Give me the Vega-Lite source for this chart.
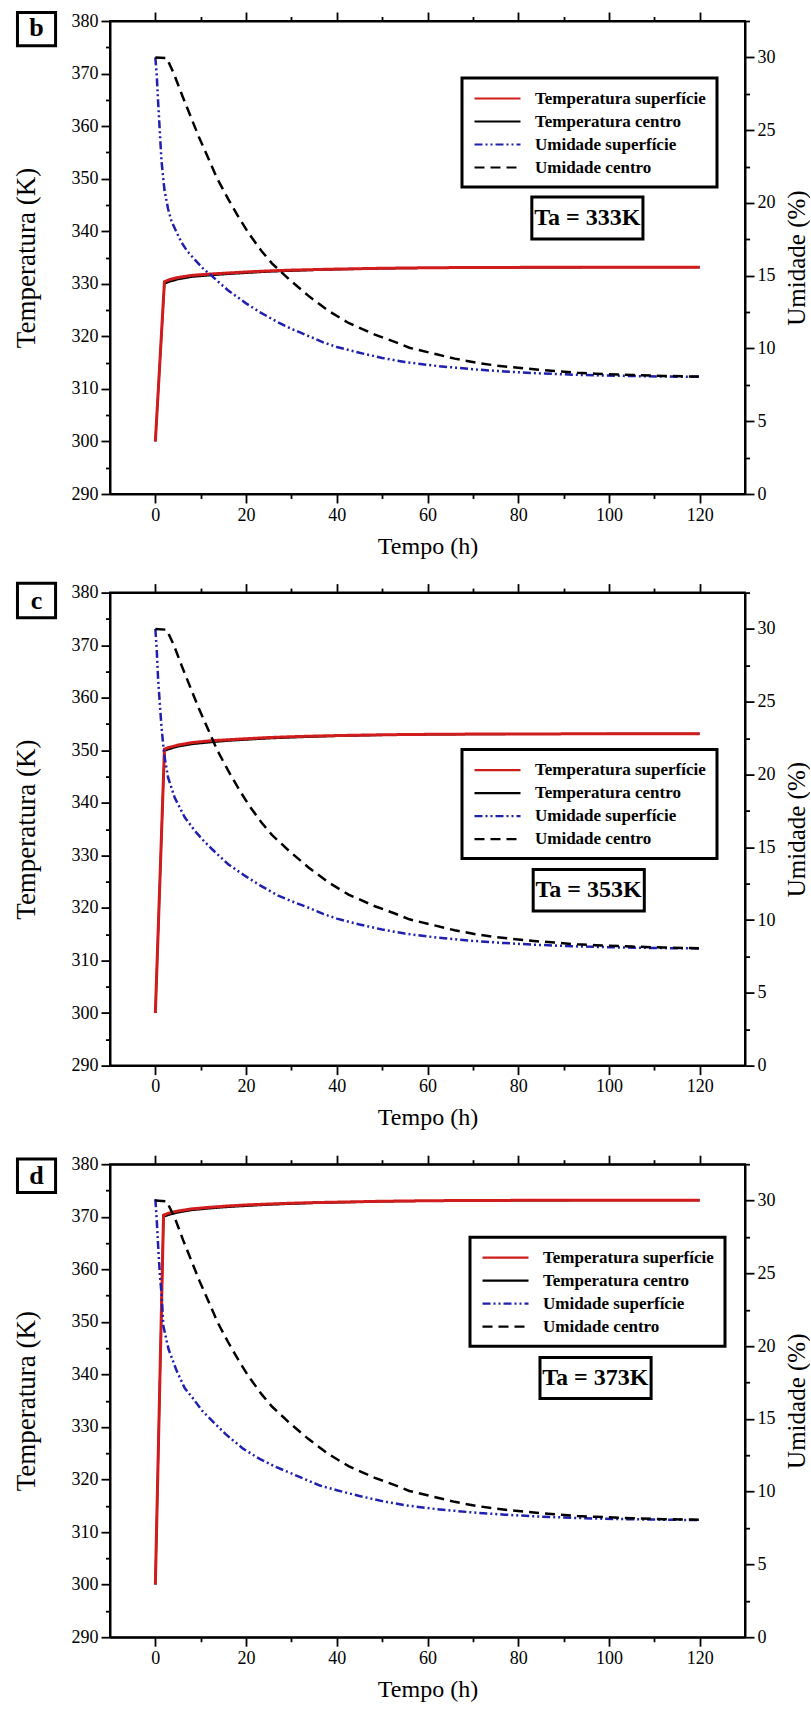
{
  "$schema": "https://vega.github.io/schema/vega-lite/v6.json",
  "background": "white",
  "padding": {"left": 11, "top": 10, "right": 0, "bottom": 2},
  "config": {
    "view": {"stroke": "black", "strokeWidth": 2},
    "axis": {"grid": false, "domainColor": "black", "domainWidth": 2, "tickColor": "black", "tickWidth": 1.8, "tickSize": 9,
      "labelFont": "Liberation Serif, Times New Roman, serif", "labelFontSize": 18, "labelColor": "black", "labelPadding": 3, "labelFlush": false, "labelOverlap": false,
      "titleFont": "Liberation Serif, Times New Roman, serif", "titleFontSize": 24, "titleFontWeight": "normal", "titleColor": "black"},
    "legend": {"strokeColor": "black", "strokeWidth": 3, "fillColor": "white", "padding": 11, "cornerRadius": 0,
      "symbolType": "M-1,0H4.75", "symbolSize": 256, "symbolStrokeWidth": 2.2, "labelFont": "Liberation Serif, Times New Roman, serif", "labelFontWeight": "bold",
      "labelFontSize": 17, "labelColor": "black", "labelOffset": 43, "rowPadding": 5, "labelLimit": 400}
  },
  "datasets": {
    "dados_b": [
      {"serie": "Temperatura superfície", "t": 0, "valor": 300}, {"serie": "Temperatura superfície", "t": 2, "valor": 330.4}, {"serie": "Temperatura superfície", "t": 3, "valor": 330.75}, {"serie": "Temperatura superfície", "t": 5, "valor": 331.2}, {"serie": "Temperatura superfície", "t": 8, "valor": 331.6}, {"serie": "Temperatura superfície", "t": 12, "valor": 331.85}, {"serie": "Temperatura superfície", "t": 16, "valor": 332.05}, {"serie": "Temperatura superfície", "t": 20, "valor": 332.25}, {"serie": "Temperatura superfície", "t": 25, "valor": 332.45}, {"serie": "Temperatura superfície", "t": 30, "valor": 332.6}, {"serie": "Temperatura superfície", "t": 35, "valor": 332.7}, {"serie": "Temperatura superfície", "t": 40, "valor": 332.8}, {"serie": "Temperatura superfície", "t": 50, "valor": 332.95}, {"serie": "Temperatura superfície", "t": 60, "valor": 333.05}, {"serie": "Temperatura superfície", "t": 70, "valor": 333.1}, {"serie": "Temperatura superfície", "t": 80, "valor": 333.12}, {"serie": "Temperatura superfície", "t": 90, "valor": 333.14}, {"serie": "Temperatura superfície", "t": 100, "valor": 333.15}, {"serie": "Temperatura superfície", "t": 110, "valor": 333.15}, {"serie": "Temperatura superfície", "t": 120, "valor": 333.15},
      {"serie": "Temperatura centro", "t": 0, "valor": 300}, {"serie": "Temperatura centro", "t": 2, "valor": 330}, {"serie": "Temperatura centro", "t": 3, "valor": 330.35}, {"serie": "Temperatura centro", "t": 5, "valor": 330.85}, {"serie": "Temperatura centro", "t": 8, "valor": 331.3}, {"serie": "Temperatura centro", "t": 12, "valor": 331.6}, {"serie": "Temperatura centro", "t": 16, "valor": 331.85}, {"serie": "Temperatura centro", "t": 20, "valor": 332.05}, {"serie": "Temperatura centro", "t": 25, "valor": 332.3}, {"serie": "Temperatura centro", "t": 30, "valor": 332.45}, {"serie": "Temperatura centro", "t": 35, "valor": 332.6}, {"serie": "Temperatura centro", "t": 40, "valor": 332.72}, {"serie": "Temperatura centro", "t": 50, "valor": 332.9}, {"serie": "Temperatura centro", "t": 60, "valor": 333}, {"serie": "Temperatura centro", "t": 70, "valor": 333.06}, {"serie": "Temperatura centro", "t": 80, "valor": 333.1}, {"serie": "Temperatura centro", "t": 100, "valor": 333.13}, {"serie": "Temperatura centro", "t": 120, "valor": 333.15},
      {"serie": "Umidade superfície", "t": 0, "valor": 30}, {"serie": "Umidade superfície", "t": 0.3, "valor": 28.8}, {"serie": "Umidade superfície", "t": 0.6, "valor": 27.0}, {"serie": "Umidade superfície", "t": 1.0, "valor": 24.8}, {"serie": "Umidade superfície", "t": 1.35, "valor": 22.9}, {"serie": "Umidade superfície", "t": 2.0, "valor": 20.9}, {"serie": "Umidade superfície", "t": 2.8, "valor": 19.6}, {"serie": "Umidade superfície", "t": 3.5, "valor": 18.8}, {"serie": "Umidade superfície", "t": 4.5, "valor": 18.1}, {"serie": "Umidade superfície", "t": 5.75, "valor": 17.3}, {"serie": "Umidade superfície", "t": 7, "valor": 16.7}, {"serie": "Umidade superfície", "t": 8.7, "valor": 16.1}, {"serie": "Umidade superfície", "t": 10.5, "valor": 15.5}, {"serie": "Umidade superfície", "t": 12.4, "valor": 15.0}, {"serie": "Umidade superfície", "t": 14, "valor": 14.55}, {"serie": "Umidade superfície", "t": 16, "valor": 14.0}, {"serie": "Umidade superfície", "t": 18, "valor": 13.55}, {"serie": "Umidade superfície", "t": 20, "valor": 13.1}, {"serie": "Umidade superfície", "t": 23, "valor": 12.5}, {"serie": "Umidade superfície", "t": 27, "valor": 11.8}, {"serie": "Umidade superfície", "t": 30, "valor": 11.35}, {"serie": "Umidade superfície", "t": 34.4, "valor": 10.77}, {"serie": "Umidade superfície", "t": 37, "valor": 10.42}, {"serie": "Umidade superfície", "t": 40, "valor": 10.1}, {"serie": "Umidade superfície", "t": 45, "valor": 9.7}, {"serie": "Umidade superfície", "t": 50, "valor": 9.35}, {"serie": "Umidade superfície", "t": 55, "valor": 9.07}, {"serie": "Umidade superfície", "t": 62, "valor": 8.8}, {"serie": "Umidade superfície", "t": 70, "valor": 8.57}, {"serie": "Umidade superfície", "t": 77, "valor": 8.42}, {"serie": "Umidade superfície", "t": 84, "valor": 8.3}, {"serie": "Umidade superfície", "t": 92, "valor": 8.2}, {"serie": "Umidade superfície", "t": 99, "valor": 8.14}, {"serie": "Umidade superfície", "t": 106, "valor": 8.1}, {"serie": "Umidade superfície", "t": 113, "valor": 8.07}, {"serie": "Umidade superfície", "t": 120, "valor": 8.05},
      {"serie": "Umidade centro", "t": 0, "valor": 30}, {"serie": "Umidade centro", "t": 2.5, "valor": 29.95}, {"serie": "Umidade centro", "t": 4.06, "valor": 28.9}, {"serie": "Umidade centro", "t": 5.9, "valor": 27.4}, {"serie": "Umidade centro", "t": 7.74, "valor": 25.97}, {"serie": "Umidade centro", "t": 9.57, "valor": 24.55}, {"serie": "Umidade centro", "t": 11.77, "valor": 23.0}, {"serie": "Umidade centro", "t": 13.6, "valor": 21.7}, {"serie": "Umidade centro", "t": 16, "valor": 20.3}, {"serie": "Umidade centro", "t": 18.4, "valor": 19.0}, {"serie": "Umidade centro", "t": 20.6, "valor": 17.9}, {"serie": "Umidade centro", "t": 23.4, "valor": 16.7}, {"serie": "Umidade centro", "t": 25.7, "valor": 15.85}, {"serie": "Umidade centro", "t": 29.6, "valor": 14.72}, {"serie": "Umidade centro", "t": 33.7, "valor": 13.63}, {"serie": "Umidade centro", "t": 38.1, "valor": 12.6}, {"serie": "Umidade centro", "t": 42.6, "valor": 11.75}, {"serie": "Umidade centro", "t": 48.4, "valor": 10.95}, {"serie": "Umidade centro", "t": 52.8, "valor": 10.45}, {"serie": "Umidade centro", "t": 56, "valor": 10.05}, {"serie": "Umidade centro", "t": 62, "valor": 9.6}, {"serie": "Umidade centro", "t": 66, "valor": 9.3}, {"serie": "Umidade centro", "t": 70.6, "valor": 9.03}, {"serie": "Umidade centro", "t": 75, "valor": 8.83}, {"serie": "Umidade centro", "t": 80, "valor": 8.67}, {"serie": "Umidade centro", "t": 84, "valor": 8.55}, {"serie": "Umidade centro", "t": 88, "valor": 8.45}, {"serie": "Umidade centro", "t": 93, "valor": 8.33}, {"serie": "Umidade centro", "t": 97, "valor": 8.27}, {"serie": "Umidade centro", "t": 105, "valor": 8.18}, {"serie": "Umidade centro", "t": 112, "valor": 8.11}, {"serie": "Umidade centro", "t": 120, "valor": 8.07}
    ],
    "dados_c": [
      {"serie": "Temperatura superfície", "t": 0, "valor": 300}, {"serie": "Temperatura superfície", "t": 2, "valor": 350.2}, {"serie": "Temperatura superfície", "t": 3, "valor": 350.55}, {"serie": "Temperatura superfície", "t": 5, "valor": 351.0}, {"serie": "Temperatura superfície", "t": 8, "valor": 351.45}, {"serie": "Temperatura superfície", "t": 12, "valor": 351.8}, {"serie": "Temperatura superfície", "t": 16, "valor": 352.0}, {"serie": "Temperatura superfície", "t": 20, "valor": 352.2}, {"serie": "Temperatura superfície", "t": 25, "valor": 352.42}, {"serie": "Temperatura superfície", "t": 30, "valor": 352.58}, {"serie": "Temperatura superfície", "t": 35, "valor": 352.7}, {"serie": "Temperatura superfície", "t": 40, "valor": 352.8}, {"serie": "Temperatura superfície", "t": 50, "valor": 352.95}, {"serie": "Temperatura superfície", "t": 60, "valor": 353.03}, {"serie": "Temperatura superfície", "t": 70, "valor": 353.08}, {"serie": "Temperatura superfície", "t": 80, "valor": 353.1}, {"serie": "Temperatura superfície", "t": 90, "valor": 353.12}, {"serie": "Temperatura superfície", "t": 100, "valor": 353.13}, {"serie": "Temperatura superfície", "t": 110, "valor": 353.14}, {"serie": "Temperatura superfície", "t": 120, "valor": 353.15},
      {"serie": "Temperatura centro", "t": 0, "valor": 300}, {"serie": "Temperatura centro", "t": 2, "valor": 349.9}, {"serie": "Temperatura centro", "t": 3, "valor": 350.2}, {"serie": "Temperatura centro", "t": 5, "valor": 350.7}, {"serie": "Temperatura centro", "t": 8, "valor": 351.15}, {"serie": "Temperatura centro", "t": 12, "valor": 351.5}, {"serie": "Temperatura centro", "t": 16, "valor": 351.8}, {"serie": "Temperatura centro", "t": 20, "valor": 352.0}, {"serie": "Temperatura centro", "t": 25, "valor": 352.25}, {"serie": "Temperatura centro", "t": 30, "valor": 352.42}, {"serie": "Temperatura centro", "t": 35, "valor": 352.57}, {"serie": "Temperatura centro", "t": 40, "valor": 352.7}, {"serie": "Temperatura centro", "t": 50, "valor": 352.88}, {"serie": "Temperatura centro", "t": 60, "valor": 352.98}, {"serie": "Temperatura centro", "t": 70, "valor": 353.05}, {"serie": "Temperatura centro", "t": 80, "valor": 353.08}, {"serie": "Temperatura centro", "t": 100, "valor": 353.12}, {"serie": "Temperatura centro", "t": 120, "valor": 353.14},
      {"serie": "Umidade superfície", "t": 0, "valor": 30}, {"serie": "Umidade superfície", "t": 0.3, "valor": 28.6}, {"serie": "Umidade superfície", "t": 0.6, "valor": 26.6}, {"serie": "Umidade superfície", "t": 1.0, "valor": 24.8}, {"serie": "Umidade superfície", "t": 1.35, "valor": 23.3}, {"serie": "Umidade superfície", "t": 1.93, "valor": 21.4}, {"serie": "Umidade superfície", "t": 2.8, "valor": 19.8}, {"serie": "Umidade superfície", "t": 4.28, "valor": 18.4}, {"serie": "Umidade superfície", "t": 6.48, "valor": 17.06}, {"serie": "Umidade superfície", "t": 8.69, "valor": 16.14}, {"serie": "Umidade superfície", "t": 10.5, "valor": 15.5}, {"serie": "Umidade superfície", "t": 12.4, "valor": 14.9}, {"serie": "Umidade superfície", "t": 16, "valor": 13.85}, {"serie": "Umidade superfície", "t": 19.7, "valor": 13.05}, {"serie": "Umidade superfície", "t": 23, "valor": 12.4}, {"serie": "Umidade superfície", "t": 27.1, "valor": 11.68}, {"serie": "Umidade superfície", "t": 30, "valor": 11.3}, {"serie": "Umidade superfície", "t": 34.4, "valor": 10.77}, {"serie": "Umidade superfície", "t": 37, "valor": 10.42}, {"serie": "Umidade superfície", "t": 40, "valor": 10.1}, {"serie": "Umidade superfície", "t": 45, "valor": 9.7}, {"serie": "Umidade superfície", "t": 50, "valor": 9.35}, {"serie": "Umidade superfície", "t": 55, "valor": 9.07}, {"serie": "Umidade superfície", "t": 62, "valor": 8.8}, {"serie": "Umidade superfície", "t": 70, "valor": 8.57}, {"serie": "Umidade superfície", "t": 77, "valor": 8.42}, {"serie": "Umidade superfície", "t": 84, "valor": 8.3}, {"serie": "Umidade superfície", "t": 92, "valor": 8.2}, {"serie": "Umidade superfície", "t": 99, "valor": 8.14}, {"serie": "Umidade superfície", "t": 106, "valor": 8.1}, {"serie": "Umidade superfície", "t": 113, "valor": 8.07}, {"serie": "Umidade superfície", "t": 120, "valor": 8.05},
      {"serie": "Umidade centro", "t": 0, "valor": 30}, {"serie": "Umidade centro", "t": 2.5, "valor": 29.95}, {"serie": "Umidade centro", "t": 4.06, "valor": 28.9}, {"serie": "Umidade centro", "t": 5.9, "valor": 27.4}, {"serie": "Umidade centro", "t": 7.74, "valor": 25.97}, {"serie": "Umidade centro", "t": 9.57, "valor": 24.55}, {"serie": "Umidade centro", "t": 11.77, "valor": 23.0}, {"serie": "Umidade centro", "t": 13.6, "valor": 21.7}, {"serie": "Umidade centro", "t": 16, "valor": 20.3}, {"serie": "Umidade centro", "t": 18.4, "valor": 19.0}, {"serie": "Umidade centro", "t": 20.6, "valor": 17.9}, {"serie": "Umidade centro", "t": 23.4, "valor": 16.7}, {"serie": "Umidade centro", "t": 25.7, "valor": 15.85}, {"serie": "Umidade centro", "t": 29.6, "valor": 14.72}, {"serie": "Umidade centro", "t": 33.7, "valor": 13.63}, {"serie": "Umidade centro", "t": 38.1, "valor": 12.6}, {"serie": "Umidade centro", "t": 42.6, "valor": 11.75}, {"serie": "Umidade centro", "t": 48.4, "valor": 10.95}, {"serie": "Umidade centro", "t": 52.8, "valor": 10.45}, {"serie": "Umidade centro", "t": 56, "valor": 10.05}, {"serie": "Umidade centro", "t": 62, "valor": 9.6}, {"serie": "Umidade centro", "t": 66, "valor": 9.3}, {"serie": "Umidade centro", "t": 70.6, "valor": 9.03}, {"serie": "Umidade centro", "t": 75, "valor": 8.83}, {"serie": "Umidade centro", "t": 80, "valor": 8.67}, {"serie": "Umidade centro", "t": 84, "valor": 8.55}, {"serie": "Umidade centro", "t": 88, "valor": 8.45}, {"serie": "Umidade centro", "t": 93, "valor": 8.33}, {"serie": "Umidade centro", "t": 97, "valor": 8.27}, {"serie": "Umidade centro", "t": 105, "valor": 8.18}, {"serie": "Umidade centro", "t": 112, "valor": 8.11}, {"serie": "Umidade centro", "t": 120, "valor": 8.07}
    ],
    "dados_d": [
      {"serie": "Temperatura superfície", "t": 0, "valor": 300}, {"serie": "Temperatura superfície", "t": 1.8, "valor": 370.3}, {"serie": "Temperatura superfície", "t": 3, "valor": 370.7}, {"serie": "Temperatura superfície", "t": 5, "valor": 371.1}, {"serie": "Temperatura superfície", "t": 8, "valor": 371.5}, {"serie": "Temperatura superfície", "t": 12, "valor": 371.8}, {"serie": "Temperatura superfície", "t": 16, "valor": 372.05}, {"serie": "Temperatura superfície", "t": 20, "valor": 372.25}, {"serie": "Temperatura superfície", "t": 25, "valor": 372.42}, {"serie": "Temperatura superfície", "t": 30, "valor": 372.58}, {"serie": "Temperatura superfície", "t": 35, "valor": 372.7}, {"serie": "Temperatura superfície", "t": 40, "valor": 372.78}, {"serie": "Temperatura superfície", "t": 50, "valor": 372.95}, {"serie": "Temperatura superfície", "t": 60, "valor": 373.05}, {"serie": "Temperatura superfície", "t": 70, "valor": 373.1}, {"serie": "Temperatura superfície", "t": 80, "valor": 373.12}, {"serie": "Temperatura superfície", "t": 90, "valor": 373.14}, {"serie": "Temperatura superfície", "t": 100, "valor": 373.15}, {"serie": "Temperatura superfície", "t": 110, "valor": 373.15}, {"serie": "Temperatura superfície", "t": 120, "valor": 373.15},
      {"serie": "Temperatura centro", "t": 0, "valor": 300}, {"serie": "Temperatura centro", "t": 1.8, "valor": 370}, {"serie": "Temperatura centro", "t": 3, "valor": 370.35}, {"serie": "Temperatura centro", "t": 5, "valor": 370.8}, {"serie": "Temperatura centro", "t": 8, "valor": 371.25}, {"serie": "Temperatura centro", "t": 12, "valor": 371.58}, {"serie": "Temperatura centro", "t": 16, "valor": 371.85}, {"serie": "Temperatura centro", "t": 20, "valor": 372.05}, {"serie": "Temperatura centro", "t": 25, "valor": 372.28}, {"serie": "Temperatura centro", "t": 30, "valor": 372.45}, {"serie": "Temperatura centro", "t": 35, "valor": 372.6}, {"serie": "Temperatura centro", "t": 40, "valor": 372.7}, {"serie": "Temperatura centro", "t": 50, "valor": 372.9}, {"serie": "Temperatura centro", "t": 60, "valor": 373}, {"serie": "Temperatura centro", "t": 70, "valor": 373.06}, {"serie": "Temperatura centro", "t": 80, "valor": 373.1}, {"serie": "Temperatura centro", "t": 100, "valor": 373.13}, {"serie": "Temperatura centro", "t": 120, "valor": 373.15},
      {"serie": "Umidade superfície", "t": 0, "valor": 30.1}, {"serie": "Umidade superfície", "t": 0.3, "valor": 28.7}, {"serie": "Umidade superfície", "t": 0.7, "valor": 26.4}, {"serie": "Umidade superfície", "t": 1.0, "valor": 24.9}, {"serie": "Umidade superfície", "t": 1.4, "valor": 23.45}, {"serie": "Umidade superfície", "t": 1.76, "valor": 21.4}, {"serie": "Umidade superfície", "t": 2.9, "valor": 19.8}, {"serie": "Umidade superfície", "t": 4.7, "valor": 18.3}, {"serie": "Umidade superfície", "t": 6.5, "valor": 17.1}, {"serie": "Umidade superfície", "t": 8.4, "valor": 16.37}, {"serie": "Umidade superfície", "t": 10.2, "valor": 15.6}, {"serie": "Umidade superfície", "t": 12.1, "valor": 15.0}, {"serie": "Umidade superfície", "t": 15.5, "valor": 13.95}, {"serie": "Umidade superfície", "t": 19.4, "valor": 12.94}, {"serie": "Umidade superfície", "t": 23, "valor": 12.25}, {"serie": "Umidade superfície", "t": 26.7, "valor": 11.68}, {"serie": "Umidade superfície", "t": 30, "valor": 11.25}, {"serie": "Umidade superfície", "t": 33, "valor": 10.85}, {"serie": "Umidade superfície", "t": 36.3, "valor": 10.42}, {"serie": "Umidade superfície", "t": 40, "valor": 10.1}, {"serie": "Umidade superfície", "t": 45, "valor": 9.7}, {"serie": "Umidade superfície", "t": 50, "valor": 9.35}, {"serie": "Umidade superfície", "t": 55, "valor": 9.07}, {"serie": "Umidade superfície", "t": 62, "valor": 8.8}, {"serie": "Umidade superfície", "t": 70, "valor": 8.57}, {"serie": "Umidade superfície", "t": 77, "valor": 8.42}, {"serie": "Umidade superfície", "t": 84, "valor": 8.3}, {"serie": "Umidade superfície", "t": 92, "valor": 8.2}, {"serie": "Umidade superfície", "t": 99, "valor": 8.14}, {"serie": "Umidade superfície", "t": 106, "valor": 8.1}, {"serie": "Umidade superfície", "t": 113, "valor": 8.07}, {"serie": "Umidade superfície", "t": 120, "valor": 8.05},
      {"serie": "Umidade centro", "t": 0, "valor": 30}, {"serie": "Umidade centro", "t": 2.5, "valor": 29.95}, {"serie": "Umidade centro", "t": 4.3, "valor": 28.8}, {"serie": "Umidade centro", "t": 6.1, "valor": 27.3}, {"serie": "Umidade centro", "t": 7.9, "valor": 25.9}, {"serie": "Umidade centro", "t": 9.7, "valor": 24.5}, {"serie": "Umidade centro", "t": 11.9, "valor": 22.95}, {"serie": "Umidade centro", "t": 13.7, "valor": 21.65}, {"serie": "Umidade centro", "t": 16, "valor": 20.3}, {"serie": "Umidade centro", "t": 18.4, "valor": 19.0}, {"serie": "Umidade centro", "t": 20.6, "valor": 17.9}, {"serie": "Umidade centro", "t": 23.4, "valor": 16.7}, {"serie": "Umidade centro", "t": 25.7, "valor": 15.85}, {"serie": "Umidade centro", "t": 29.6, "valor": 14.72}, {"serie": "Umidade centro", "t": 33.7, "valor": 13.63}, {"serie": "Umidade centro", "t": 38.1, "valor": 12.6}, {"serie": "Umidade centro", "t": 42.6, "valor": 11.75}, {"serie": "Umidade centro", "t": 48.4, "valor": 10.95}, {"serie": "Umidade centro", "t": 52.8, "valor": 10.45}, {"serie": "Umidade centro", "t": 56, "valor": 10.05}, {"serie": "Umidade centro", "t": 62, "valor": 9.6}, {"serie": "Umidade centro", "t": 66, "valor": 9.3}, {"serie": "Umidade centro", "t": 70.6, "valor": 9.03}, {"serie": "Umidade centro", "t": 75, "valor": 8.83}, {"serie": "Umidade centro", "t": 80, "valor": 8.67}, {"serie": "Umidade centro", "t": 84, "valor": 8.55}, {"serie": "Umidade centro", "t": 88, "valor": 8.45}, {"serie": "Umidade centro", "t": 93, "valor": 8.33}, {"serie": "Umidade centro", "t": 97, "valor": 8.27}, {"serie": "Umidade centro", "t": 105, "valor": 8.18}, {"serie": "Umidade centro", "t": 112, "valor": 8.11}, {"serie": "Umidade centro", "t": 120, "valor": 8.07}
    ]
  },
  "spacing": 98.6,
  "bounds": "flush",
  "resolve": {"scale": {"color": "independent", "strokeDash": "independent"}},
  "vconcat": [
    {
      "width": 635, "height": 473,
      "data": {"name": "dados_b"},
      "layer": [
        {"transform": [{"filter": "datum.serie === 'Temperatura centro'"}],
         "mark": {"type": "line", "strokeWidth": 2},
         "encoding": {
           "x": {"field": "t", "type": "quantitative", "scale": {"domain": [-10, 130], "nice": false, "zero": false}, "axis": {"orient": "bottom", "values": [0, 20, 40, 60, 80, 100, 120], "format": "d", "title": "Tempo (h)", "titlePadding": 10}},
           "y": {"field": "valor", "type": "quantitative", "scale": {"domain": [290, 380], "nice": false, "zero": false}, "axis": {"orient": "left", "values": [290, 300, 310, 320, 330, 340, 350, 360, 370, 380], "format": "d", "title": "Temperatura (K)", "titlePadding": 31, "titleFontSize": 27}},
           "color": {"field": "serie", "type": "nominal", "scale": {"domain": ["Temperatura superfície", "Temperatura centro", "Umidade superfície", "Umidade centro"], "range": ["#d01c1c", "#000000", "#1f1fb0", "#000000"]}, "legend": {"title": null, "orient": "none", "legendX": 352, "legendY": 57}},
           "strokeDash": {"field": "serie", "type": "nominal", "scale": {"domain": ["Temperatura superfície", "Temperatura centro", "Umidade superfície", "Umidade centro"], "range": [[1, 0], [1, 0], [8, 3, 2, 3, 2, 3], [10, 6]]}, "legend": {"title": null, "orient": "none", "legendX": 352, "legendY": 57}}
         }},
        {"transform": [{"filter": "datum.serie === 'Temperatura superfície'"}],
         "mark": {"type": "line", "strokeWidth": 3},
         "encoding": {
           "x": {"field": "t", "type": "quantitative", "axis": null},
           "y": {"field": "valor", "type": "quantitative", "scale": {"domain": [290, 380], "nice": false, "zero": false}, "axis": null},
           "color": {"field": "serie", "type": "nominal", "scale": {"domain": ["Temperatura superfície", "Temperatura centro", "Umidade superfície", "Umidade centro"], "range": ["#d01c1c", "#000000", "#1f1fb0", "#000000"]}},
           "strokeDash": {"field": "serie", "type": "nominal", "scale": {"domain": ["Temperatura superfície", "Temperatura centro", "Umidade superfície", "Umidade centro"], "range": [[1, 0], [1, 0], [8, 3, 2, 3, 2, 3], [10, 6]]}}
         }},
        {"transform": [{"filter": "datum.serie === 'Umidade superfície'"}],
         "mark": {"type": "line", "strokeWidth": 2.5},
         "encoding": {
           "x": {"field": "t", "type": "quantitative", "axis": null},
           "y": {"field": "valor", "type": "quantitative", "scale": {"domain": [0, 32.5], "nice": false, "zero": false}, "axis": {"orient": "right", "values": [0, 5, 10, 15, 20, 25, 30], "format": "d", "title": "Umidade (%)", "titlePadding": 9, "titleAngle": 270, "titleBaseline": "top", "titleFontSize": 25}},
           "color": {"field": "serie", "type": "nominal", "scale": {"domain": ["Temperatura superfície", "Temperatura centro", "Umidade superfície", "Umidade centro"], "range": ["#d01c1c", "#000000", "#1f1fb0", "#000000"]}},
           "strokeDash": {"field": "serie", "type": "nominal", "scale": {"domain": ["Temperatura superfície", "Temperatura centro", "Umidade superfície", "Umidade centro"], "range": [[1, 0], [1, 0], [8, 3, 2, 3, 2, 3], [10, 6]]}}
         }},
        {"transform": [{"filter": "datum.serie === 'Umidade centro'"}],
         "mark": {"type": "line", "strokeWidth": 2.5},
         "encoding": {
           "x": {"field": "t", "type": "quantitative", "axis": null},
           "y": {"field": "valor", "type": "quantitative", "scale": {"domain": [0, 32.5], "nice": false, "zero": false}, "axis": null},
           "color": {"field": "serie", "type": "nominal", "scale": {"domain": ["Temperatura superfície", "Temperatura centro", "Umidade superfície", "Umidade centro"], "range": ["#d01c1c", "#000000", "#1f1fb0", "#000000"]}},
           "strokeDash": {"field": "serie", "type": "nominal", "scale": {"domain": ["Temperatura superfície", "Temperatura centro", "Umidade superfície", "Umidade centro"], "range": [[1, 0], [1, 0], [8, 3, 2, 3, 2, 3], [10, 6]]}}
         }},
        {"transform": [{"filter": "datum.serie === 'Temperatura centro'"}],
         "mark": {"type": "point", "opacity": 0},
         "encoding": {
           "x": {"field": "t", "type": "quantitative", "axis": {"orient": "top", "values": [0, 20, 40, 60, 80, 100, 120], "labels": false, "title": null}},
           "y": {"field": "valor", "type": "quantitative", "scale": {"domain": [290, 380], "nice": false, "zero": false}, "axis": {"orient": "left", "values": [295, 305, 315, 325, 335, 345, 355, 365, 375], "labels": false, "tickSize": 4.5, "domain": false, "title": null}}
         }},
        {"transform": [{"filter": "datum.serie === 'Umidade centro'"}],
         "mark": {"type": "point", "opacity": 0},
         "encoding": {
           "x": {"field": "t", "type": "quantitative", "axis": {"orient": "top", "values": [10, 30, 50, 70, 90, 110], "labels": false, "tickSize": 4.5, "domain": false, "title": null}},
           "y": {"field": "valor", "type": "quantitative", "scale": {"domain": [0, 32.5], "nice": false, "zero": false}, "axis": {"orient": "right", "values": [2.5, 7.5, 12.5, 17.5, 22.5, 27.5, 32.5], "labels": false, "tickSize": 4.5, "domain": false, "title": null}}
         }},
        {"transform": [{"filter": "datum.serie === 'Umidade centro'"}],
         "mark": {"type": "point", "opacity": 0},
         "encoding": {
           "x": {"field": "t", "type": "quantitative", "axis": {"orient": "bottom", "values": [10, 30, 50, 70, 90, 110], "labels": false, "tickSize": 4.5, "domain": false, "title": null}},
           "y": {"field": "valor", "type": "quantitative", "scale": {"domain": [0, 32.5], "nice": false, "zero": false}, "axis": null}
         }},
        {"data": {"values": [{"rotulo": "b", "ta": "Ta = 333K"}]},
         "mark": {"type": "rect", "fill": "white", "stroke": "black", "strokeWidth": 3},
         "encoding": {
           "x": {"datum": -30.4, "type": "quantitative", "axis": null}, "x2": {"datum": -22.0},
           "y": {"datum": 381.6, "type": "quantitative", "scale": {"domain": [290, 380], "nice": false, "zero": false}, "axis": null}, "y2": {"datum": 375.3}
         }},
        {"data": {"values": [{"rotulo": "b", "ta": "Ta = 333K"}]},
         "mark": {"type": "text", "font": "Liberation Serif, Times New Roman, serif", "fontWeight": "bold", "fontSize": 26, "align": "center", "baseline": "middle", "color": "black"},
         "encoding": {
           "x": {"datum": -26.2, "type": "quantitative", "axis": null},
           "y": {"datum": 378.6, "type": "quantitative", "scale": {"domain": [290, 380], "nice": false, "zero": false}, "axis": null},
           "text": {"field": "rotulo"}
         }},
        {"data": {"values": [{"rotulo": "b", "ta": "Ta = 333K"}]},
         "mark": {"type": "rect", "fill": "white", "stroke": "black", "strokeWidth": 3},
         "encoding": {
           "x": {"datum": 83.0, "type": "quantitative", "axis": null}, "x2": {"datum": 107.5},
           "y": {"datum": 346.5, "type": "quantitative", "scale": {"domain": [290, 380], "nice": false, "zero": false}, "axis": null}, "y2": {"datum": 338.5}
         }},
        {"data": {"values": [{"rotulo": "b", "ta": "Ta = 333K"}]},
         "mark": {"type": "text", "font": "Liberation Serif, Times New Roman, serif", "fontWeight": "bold", "fontSize": 24, "align": "center", "baseline": "middle", "color": "black"},
         "encoding": {
           "x": {"datum": 95.25, "type": "quantitative", "axis": null},
           "y": {"datum": 342.6, "type": "quantitative", "scale": {"domain": [290, 380], "nice": false, "zero": false}, "axis": null},
           "text": {"field": "ta"}
         }}
      ],
      "resolve": {"scale": {"y": "independent"}, "axis": {"x": "independent", "y": "independent"}}
    },
    {
      "width": 635, "height": 473,
      "data": {"name": "dados_c"},
      "layer": [
        {"transform": [{"filter": "datum.serie === 'Temperatura centro'"}],
         "mark": {"type": "line", "strokeWidth": 2},
         "encoding": {
           "x": {"field": "t", "type": "quantitative", "scale": {"domain": [-10, 130], "nice": false, "zero": false}, "axis": {"orient": "bottom", "values": [0, 20, 40, 60, 80, 100, 120], "format": "d", "title": "Tempo (h)", "titlePadding": 10}},
           "y": {"field": "valor", "type": "quantitative", "scale": {"domain": [290, 380], "nice": false, "zero": false}, "axis": {"orient": "left", "values": [290, 300, 310, 320, 330, 340, 350, 360, 370, 380], "format": "d", "title": "Temperatura (K)", "titlePadding": 31, "titleFontSize": 27}},
           "color": {"field": "serie", "type": "nominal", "scale": {"domain": ["Temperatura superfície", "Temperatura centro", "Umidade superfície", "Umidade centro"], "range": ["#d01c1c", "#000000", "#1f1fb0", "#000000"]}, "legend": {"title": null, "orient": "none", "legendX": 352, "legendY": 157}},
           "strokeDash": {"field": "serie", "type": "nominal", "scale": {"domain": ["Temperatura superfície", "Temperatura centro", "Umidade superfície", "Umidade centro"], "range": [[1, 0], [1, 0], [8, 3, 2, 3, 2, 3], [10, 6]]}, "legend": {"title": null, "orient": "none", "legendX": 352, "legendY": 157}}
         }},
        {"transform": [{"filter": "datum.serie === 'Temperatura superfície'"}],
         "mark": {"type": "line", "strokeWidth": 3},
         "encoding": {
           "x": {"field": "t", "type": "quantitative", "axis": null},
           "y": {"field": "valor", "type": "quantitative", "scale": {"domain": [290, 380], "nice": false, "zero": false}, "axis": null},
           "color": {"field": "serie", "type": "nominal", "scale": {"domain": ["Temperatura superfície", "Temperatura centro", "Umidade superfície", "Umidade centro"], "range": ["#d01c1c", "#000000", "#1f1fb0", "#000000"]}},
           "strokeDash": {"field": "serie", "type": "nominal", "scale": {"domain": ["Temperatura superfície", "Temperatura centro", "Umidade superfície", "Umidade centro"], "range": [[1, 0], [1, 0], [8, 3, 2, 3, 2, 3], [10, 6]]}}
         }},
        {"transform": [{"filter": "datum.serie === 'Umidade superfície'"}],
         "mark": {"type": "line", "strokeWidth": 2.5},
         "encoding": {
           "x": {"field": "t", "type": "quantitative", "axis": null},
           "y": {"field": "valor", "type": "quantitative", "scale": {"domain": [0, 32.5], "nice": false, "zero": false}, "axis": {"orient": "right", "values": [0, 5, 10, 15, 20, 25, 30], "format": "d", "title": "Umidade (%)", "titlePadding": 9, "titleAngle": 270, "titleBaseline": "top", "titleFontSize": 25}},
           "color": {"field": "serie", "type": "nominal", "scale": {"domain": ["Temperatura superfície", "Temperatura centro", "Umidade superfície", "Umidade centro"], "range": ["#d01c1c", "#000000", "#1f1fb0", "#000000"]}},
           "strokeDash": {"field": "serie", "type": "nominal", "scale": {"domain": ["Temperatura superfície", "Temperatura centro", "Umidade superfície", "Umidade centro"], "range": [[1, 0], [1, 0], [8, 3, 2, 3, 2, 3], [10, 6]]}}
         }},
        {"transform": [{"filter": "datum.serie === 'Umidade centro'"}],
         "mark": {"type": "line", "strokeWidth": 2.5},
         "encoding": {
           "x": {"field": "t", "type": "quantitative", "axis": null},
           "y": {"field": "valor", "type": "quantitative", "scale": {"domain": [0, 32.5], "nice": false, "zero": false}, "axis": null},
           "color": {"field": "serie", "type": "nominal", "scale": {"domain": ["Temperatura superfície", "Temperatura centro", "Umidade superfície", "Umidade centro"], "range": ["#d01c1c", "#000000", "#1f1fb0", "#000000"]}},
           "strokeDash": {"field": "serie", "type": "nominal", "scale": {"domain": ["Temperatura superfície", "Temperatura centro", "Umidade superfície", "Umidade centro"], "range": [[1, 0], [1, 0], [8, 3, 2, 3, 2, 3], [10, 6]]}}
         }},
        {"transform": [{"filter": "datum.serie === 'Temperatura centro'"}],
         "mark": {"type": "point", "opacity": 0},
         "encoding": {
           "x": {"field": "t", "type": "quantitative", "axis": {"orient": "top", "values": [0, 20, 40, 60, 80, 100, 120], "labels": false, "title": null}},
           "y": {"field": "valor", "type": "quantitative", "scale": {"domain": [290, 380], "nice": false, "zero": false}, "axis": {"orient": "left", "values": [295, 305, 315, 325, 335, 345, 355, 365, 375], "labels": false, "tickSize": 4.5, "domain": false, "title": null}}
         }},
        {"transform": [{"filter": "datum.serie === 'Umidade centro'"}],
         "mark": {"type": "point", "opacity": 0},
         "encoding": {
           "x": {"field": "t", "type": "quantitative", "axis": {"orient": "top", "values": [10, 30, 50, 70, 90, 110], "labels": false, "tickSize": 4.5, "domain": false, "title": null}},
           "y": {"field": "valor", "type": "quantitative", "scale": {"domain": [0, 32.5], "nice": false, "zero": false}, "axis": {"orient": "right", "values": [2.5, 7.5, 12.5, 17.5, 22.5, 27.5, 32.5], "labels": false, "tickSize": 4.5, "domain": false, "title": null}}
         }},
        {"transform": [{"filter": "datum.serie === 'Umidade centro'"}],
         "mark": {"type": "point", "opacity": 0},
         "encoding": {
           "x": {"field": "t", "type": "quantitative", "axis": {"orient": "bottom", "values": [10, 30, 50, 70, 90, 110], "labels": false, "tickSize": 4.5, "domain": false, "title": null}},
           "y": {"field": "valor", "type": "quantitative", "scale": {"domain": [0, 32.5], "nice": false, "zero": false}, "axis": null}
         }},
        {"data": {"values": [{"rotulo": "c", "ta": "Ta = 353K"}]},
         "mark": {"type": "rect", "fill": "white", "stroke": "black", "strokeWidth": 3},
         "encoding": {
           "x": {"datum": -30.4, "type": "quantitative", "axis": null}, "x2": {"datum": -22.0},
           "y": {"datum": 381.8, "type": "quantitative", "scale": {"domain": [290, 380], "nice": false, "zero": false}, "axis": null}, "y2": {"datum": 375.2}
         }},
        {"data": {"values": [{"rotulo": "c", "ta": "Ta = 353K"}]},
         "mark": {"type": "text", "font": "Liberation Serif, Times New Roman, serif", "fontWeight": "bold", "fontSize": 26, "align": "center", "baseline": "middle", "color": "black"},
         "encoding": {
           "x": {"datum": -26.2, "type": "quantitative", "axis": null},
           "y": {"datum": 378.4, "type": "quantitative", "scale": {"domain": [290, 380], "nice": false, "zero": false}, "axis": null},
           "text": {"field": "rotulo"}
         }},
        {"data": {"values": [{"rotulo": "c", "ta": "Ta = 353K"}]},
         "mark": {"type": "rect", "fill": "white", "stroke": "black", "strokeWidth": 3},
         "encoding": {
           "x": {"datum": 83.3, "type": "quantitative", "axis": null}, "x2": {"datum": 107.8},
           "y": {"datum": 327.3, "type": "quantitative", "scale": {"domain": [290, 380], "nice": false, "zero": false}, "axis": null}, "y2": {"datum": 319.4}
         }},
        {"data": {"values": [{"rotulo": "c", "ta": "Ta = 353K"}]},
         "mark": {"type": "text", "font": "Liberation Serif, Times New Roman, serif", "fontWeight": "bold", "fontSize": 24, "align": "center", "baseline": "middle", "color": "black"},
         "encoding": {
           "x": {"datum": 95.5, "type": "quantitative", "axis": null},
           "y": {"datum": 323.4, "type": "quantitative", "scale": {"domain": [290, 380], "nice": false, "zero": false}, "axis": null},
           "text": {"field": "ta"}
         }}
      ],
      "resolve": {"scale": {"y": "independent"}, "axis": {"x": "independent", "y": "independent"}}
    },
    {
      "width": 635, "height": 473,
      "data": {"name": "dados_d"},
      "layer": [
        {"transform": [{"filter": "datum.serie === 'Temperatura centro'"}],
         "mark": {"type": "line", "strokeWidth": 2},
         "encoding": {
           "x": {"field": "t", "type": "quantitative", "scale": {"domain": [-10, 130], "nice": false, "zero": false}, "axis": {"orient": "bottom", "values": [0, 20, 40, 60, 80, 100, 120], "format": "d", "title": "Tempo (h)", "titlePadding": 10}},
           "y": {"field": "valor", "type": "quantitative", "scale": {"domain": [290, 380], "nice": false, "zero": false}, "axis": {"orient": "left", "values": [290, 300, 310, 320, 330, 340, 350, 360, 370, 380], "format": "d", "title": "Temperatura (K)", "titlePadding": 31, "titleFontSize": 27}},
           "color": {"field": "serie", "type": "nominal", "scale": {"domain": ["Temperatura superfície", "Temperatura centro", "Umidade superfície", "Umidade centro"], "range": ["#d01c1c", "#000000", "#1f1fb0", "#000000"]}, "legend": {"title": null, "orient": "none", "legendX": 360, "legendY": 73}},
           "strokeDash": {"field": "serie", "type": "nominal", "scale": {"domain": ["Temperatura superfície", "Temperatura centro", "Umidade superfície", "Umidade centro"], "range": [[1, 0], [1, 0], [8, 3, 2, 3, 2, 3], [10, 6]]}, "legend": {"title": null, "orient": "none", "legendX": 360, "legendY": 73}}
         }},
        {"transform": [{"filter": "datum.serie === 'Temperatura superfície'"}],
         "mark": {"type": "line", "strokeWidth": 3},
         "encoding": {
           "x": {"field": "t", "type": "quantitative", "axis": null},
           "y": {"field": "valor", "type": "quantitative", "scale": {"domain": [290, 380], "nice": false, "zero": false}, "axis": null},
           "color": {"field": "serie", "type": "nominal", "scale": {"domain": ["Temperatura superfície", "Temperatura centro", "Umidade superfície", "Umidade centro"], "range": ["#d01c1c", "#000000", "#1f1fb0", "#000000"]}},
           "strokeDash": {"field": "serie", "type": "nominal", "scale": {"domain": ["Temperatura superfície", "Temperatura centro", "Umidade superfície", "Umidade centro"], "range": [[1, 0], [1, 0], [8, 3, 2, 3, 2, 3], [10, 6]]}}
         }},
        {"transform": [{"filter": "datum.serie === 'Umidade superfície'"}],
         "mark": {"type": "line", "strokeWidth": 2.5},
         "encoding": {
           "x": {"field": "t", "type": "quantitative", "axis": null},
           "y": {"field": "valor", "type": "quantitative", "scale": {"domain": [0, 32.5], "nice": false, "zero": false}, "axis": {"orient": "right", "values": [0, 5, 10, 15, 20, 25, 30], "format": "d", "title": "Umidade (%)", "titlePadding": 9, "titleAngle": 270, "titleBaseline": "top", "titleFontSize": 25}},
           "color": {"field": "serie", "type": "nominal", "scale": {"domain": ["Temperatura superfície", "Temperatura centro", "Umidade superfície", "Umidade centro"], "range": ["#d01c1c", "#000000", "#1f1fb0", "#000000"]}},
           "strokeDash": {"field": "serie", "type": "nominal", "scale": {"domain": ["Temperatura superfície", "Temperatura centro", "Umidade superfície", "Umidade centro"], "range": [[1, 0], [1, 0], [8, 3, 2, 3, 2, 3], [10, 6]]}}
         }},
        {"transform": [{"filter": "datum.serie === 'Umidade centro'"}],
         "mark": {"type": "line", "strokeWidth": 2.5},
         "encoding": {
           "x": {"field": "t", "type": "quantitative", "axis": null},
           "y": {"field": "valor", "type": "quantitative", "scale": {"domain": [0, 32.5], "nice": false, "zero": false}, "axis": null},
           "color": {"field": "serie", "type": "nominal", "scale": {"domain": ["Temperatura superfície", "Temperatura centro", "Umidade superfície", "Umidade centro"], "range": ["#d01c1c", "#000000", "#1f1fb0", "#000000"]}},
           "strokeDash": {"field": "serie", "type": "nominal", "scale": {"domain": ["Temperatura superfície", "Temperatura centro", "Umidade superfície", "Umidade centro"], "range": [[1, 0], [1, 0], [8, 3, 2, 3, 2, 3], [10, 6]]}}
         }},
        {"transform": [{"filter": "datum.serie === 'Temperatura centro'"}],
         "mark": {"type": "point", "opacity": 0},
         "encoding": {
           "x": {"field": "t", "type": "quantitative", "axis": {"orient": "top", "values": [0, 20, 40, 60, 80, 100, 120], "labels": false, "title": null}},
           "y": {"field": "valor", "type": "quantitative", "scale": {"domain": [290, 380], "nice": false, "zero": false}, "axis": {"orient": "left", "values": [295, 305, 315, 325, 335, 345, 355, 365, 375], "labels": false, "tickSize": 4.5, "domain": false, "title": null}}
         }},
        {"transform": [{"filter": "datum.serie === 'Umidade centro'"}],
         "mark": {"type": "point", "opacity": 0},
         "encoding": {
           "x": {"field": "t", "type": "quantitative", "axis": {"orient": "top", "values": [10, 30, 50, 70, 90, 110], "labels": false, "tickSize": 4.5, "domain": false, "title": null}},
           "y": {"field": "valor", "type": "quantitative", "scale": {"domain": [0, 32.5], "nice": false, "zero": false}, "axis": {"orient": "right", "values": [2.5, 7.5, 12.5, 17.5, 22.5, 27.5, 32.5], "labels": false, "tickSize": 4.5, "domain": false, "title": null}}
         }},
        {"transform": [{"filter": "datum.serie === 'Umidade centro'"}],
         "mark": {"type": "point", "opacity": 0},
         "encoding": {
           "x": {"field": "t", "type": "quantitative", "axis": {"orient": "bottom", "values": [10, 30, 50, 70, 90, 110], "labels": false, "tickSize": 4.5, "domain": false, "title": null}},
           "y": {"field": "valor", "type": "quantitative", "scale": {"domain": [0, 32.5], "nice": false, "zero": false}, "axis": null}
         }},
        {"data": {"values": [{"rotulo": "d", "ta": "Ta = 373K"}]},
         "mark": {"type": "rect", "fill": "white", "stroke": "black", "strokeWidth": 3},
         "encoding": {
           "x": {"datum": -30.4, "type": "quantitative", "axis": null}, "x2": {"datum": -22.0},
           "y": {"datum": 381.0, "type": "quantitative", "scale": {"domain": [290, 380], "nice": false, "zero": false}, "axis": null}, "y2": {"datum": 374.6}
         }},
        {"data": {"values": [{"rotulo": "d", "ta": "Ta = 373K"}]},
         "mark": {"type": "text", "font": "Liberation Serif, Times New Roman, serif", "fontWeight": "bold", "fontSize": 26, "align": "center", "baseline": "middle", "color": "black"},
         "encoding": {
           "x": {"datum": -26.2, "type": "quantitative", "axis": null},
           "y": {"datum": 377.8, "type": "quantitative", "scale": {"domain": [290, 380], "nice": false, "zero": false}, "axis": null},
           "text": {"field": "rotulo"}
         }},
        {"data": {"values": [{"rotulo": "d", "ta": "Ta = 373K"}]},
         "mark": {"type": "rect", "fill": "white", "stroke": "black", "strokeWidth": 3},
         "encoding": {
           "x": {"datum": 84.8, "type": "quantitative", "axis": null}, "x2": {"datum": 109.3},
           "y": {"datum": 343.2, "type": "quantitative", "scale": {"domain": [290, 380], "nice": false, "zero": false}, "axis": null}, "y2": {"datum": 335.4}
         }},
        {"data": {"values": [{"rotulo": "d", "ta": "Ta = 373K"}]},
         "mark": {"type": "text", "font": "Liberation Serif, Times New Roman, serif", "fontWeight": "bold", "fontSize": 24, "align": "center", "baseline": "middle", "color": "black"},
         "encoding": {
           "x": {"datum": 97.0, "type": "quantitative", "axis": null},
           "y": {"datum": 339.3, "type": "quantitative", "scale": {"domain": [290, 380], "nice": false, "zero": false}, "axis": null},
           "text": {"field": "ta"}
         }}
      ],
      "resolve": {"scale": {"y": "independent"}, "axis": {"x": "independent", "y": "independent"}}
    }
  ]
}
